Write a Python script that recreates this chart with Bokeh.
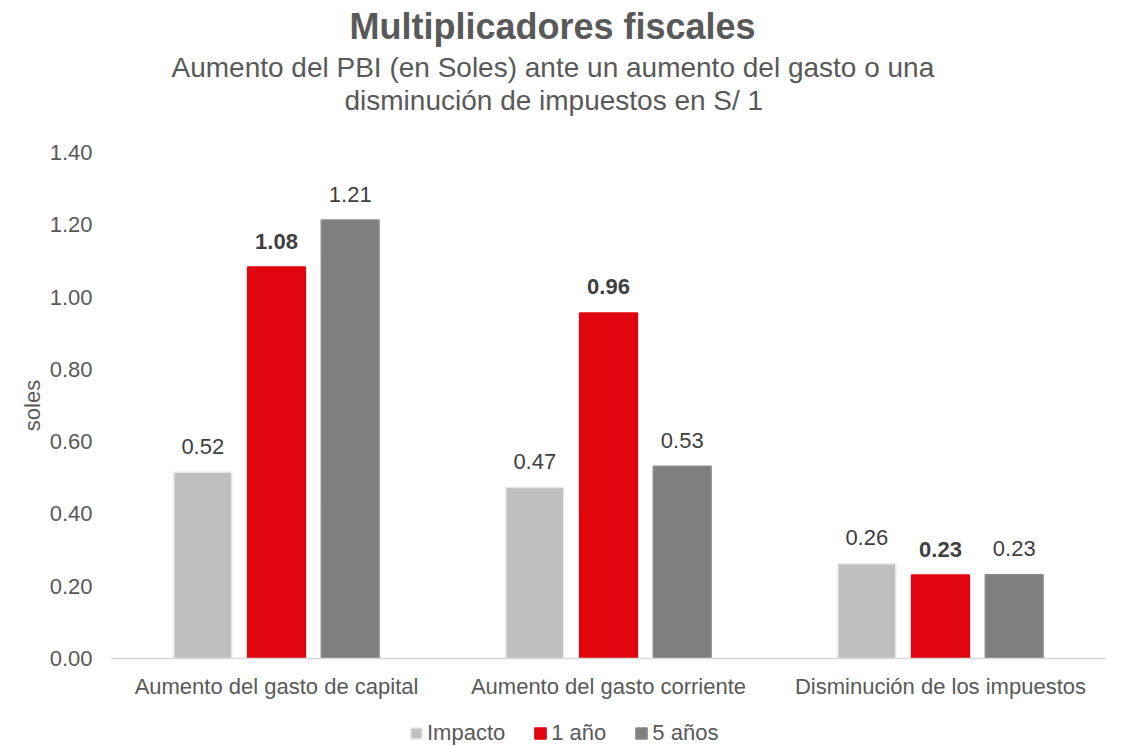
from bokeh.plotting import figure
from bokeh.layouts import column
from bokeh.models import ColumnDataSource, Legend, LegendItem, Title, Range1d, FixedTicker, NumeralTickFormatter
from bokeh.transform import dodge
from bokeh.core.properties import value
from bokeh.embed import file_html
from bokeh.resources import INLINE

categories = ["Aumento del gasto de capital", "Aumento del gasto corriente", "Disminución de los impuestos"]
series_names = ["Impacto", "1 año", "5 años"]
impacto = [0.515, 0.473, 0.262]
un_anio = [1.083, 0.956, 0.231]
cinco_anios = [1.213, 0.532, 0.232]
y_ticks = [0.0, 0.2, 0.4, 0.6, 0.8, 1.0, 1.2, 1.4]

colors = ["#BFBFBF", "#E1050E", "#7F7F7F"]
lines = ["#E8E8E8", "#E1050E", "#8A8A8A"]
FONT = "Liberation Sans"
FS = "22px"
LEFT = 110
FW = 996

src = ColumnDataSource(dict(
    cat=categories,
    s0=impacto, s1=un_anio, s2=cinco_anios,
    l0=[f"{v:.2f}" for v in impacto],
    l1=[f"{v:.2f}" for v in un_anio],
    l2=[f"{v:.2f}" for v in cinco_anios],
))

p = figure(frame_width=FW, frame_height=506, x_range=categories, y_range=Range1d(0, 1.4),
           output_backend="svg", toolbar_location=None,
           min_border_left=LEFT, min_border_right=0, min_border_top=9, min_border_bottom=0)

offsets = [-0.222, 0.0, 0.222]
for i, (off, c, lc) in enumerate(zip(offsets, colors, lines)):
    p.vbar(x=dodge("cat", off, range=p.x_range), top=f"s{i}", width=0.174, source=src,
           fill_color=c, line_color=lc, line_width=1.5)
    p.text(x=dodge("cat", off, range=p.x_range), y=f"s{i}", text=f"l{i}", source=src,
           text_align="center", text_baseline="middle", y_offset=-26,
           text_font_size=FS, text_color="#404040", text_font=value(FONT),
           text_font_style="bold" if i == 1 else "normal")

p.xgrid.visible = False
p.ygrid.visible = False
p.outline_line_color = None

p.yaxis.ticker = FixedTicker(ticks=y_ticks)
p.yaxis.formatter = NumeralTickFormatter(format="0.00")
p.yaxis.axis_line_color = None
p.yaxis.major_tick_line_color = None
p.yaxis.minor_tick_line_color = None
p.yaxis.major_label_text_font_size = FS
p.yaxis.major_label_text_color = "#595959"
p.yaxis.major_label_text_font = FONT
p.yaxis.axis_label = "soles"
p.yaxis.axis_label_text_font_size = FS
p.yaxis.axis_label_text_font_style = "normal"
p.yaxis.axis_label_text_color = "#595959"
p.yaxis.axis_label_text_font = FONT
p.yaxis.major_label_standoff = 12
p.yaxis.axis_label_standoff = 2

p.xaxis.axis_line_color = "#D9D9D9"
p.xaxis.axis_line_width = 1.5
p.xaxis.major_tick_line_color = None
p.xaxis.minor_tick_line_color = None
p.xaxis.major_label_text_font_size = FS
p.xaxis.major_label_text_color = "#595959"
p.xaxis.major_label_text_font = FONT
p.xaxis.major_label_standoff = 9

spacer = Title(text=" ", align="center", standoff=13, text_font_size="20px")
sub2 = Title(text="disminución de impuestos en S/ 1", align="left", offset=234, standoff=0,
             text_font_size="28px", text_font_style="normal", text_color="#595959", text_font=FONT)
sub1 = Title(text="Aumento del PBI (en Soles) ante un aumento del gasto o una", align="left", offset=61, standoff=0,
             text_font_size="28px", text_font_style="normal", text_color="#595959", text_font=FONT)
main = Title(text="Multiplicadores fiscales", align="left", offset=239, standoff=6,
             text_font_size="36px", text_font_style="bold", text_color="#595959", text_font=FONT)
p.add_layout(spacer, "above")
p.add_layout(sub2, "above")
p.add_layout(sub1, "above")
p.add_layout(main, "above")

# legend strip
lg = figure(frame_width=FW, frame_height=46, x_range=Range1d(0, 1), y_range=Range1d(0, 1),
            output_backend="svg", toolbar_location=None,
            min_border_left=LEFT, min_border_right=0, min_border_top=0, min_border_bottom=0)
lg.axis.visible = False
lg.grid.visible = False
lg.outline_line_color = None
leg_renderers = []
for c, lc in zip(colors, lines):
    # off-screen proxy glyphs, used only to draw the legend swatches
    leg_renderers.append(lg.rect(x=[-5], y=[-5], width=0.01, height=0.01,
                                 fill_color=c, line_color=lc, line_width=1.5))
legend = Legend(items=[LegendItem(label=n, renderers=[r]) for n, r in zip(series_names, leg_renderers)],
                orientation="horizontal", location=(299, 1), border_line_color=None,
                background_fill_alpha=0, label_text_font_size=FS, label_text_color="#595959",
                label_text_font=FONT, glyph_width=14, glyph_height=14, spacing=28,
                label_standoff=4, padding=0, margin=0, label_height=22)
lg.add_layout(legend, "center")

layout = column(p, lg, spacing=0)
open("out.html", "w").write(file_html(layout, INLINE))
